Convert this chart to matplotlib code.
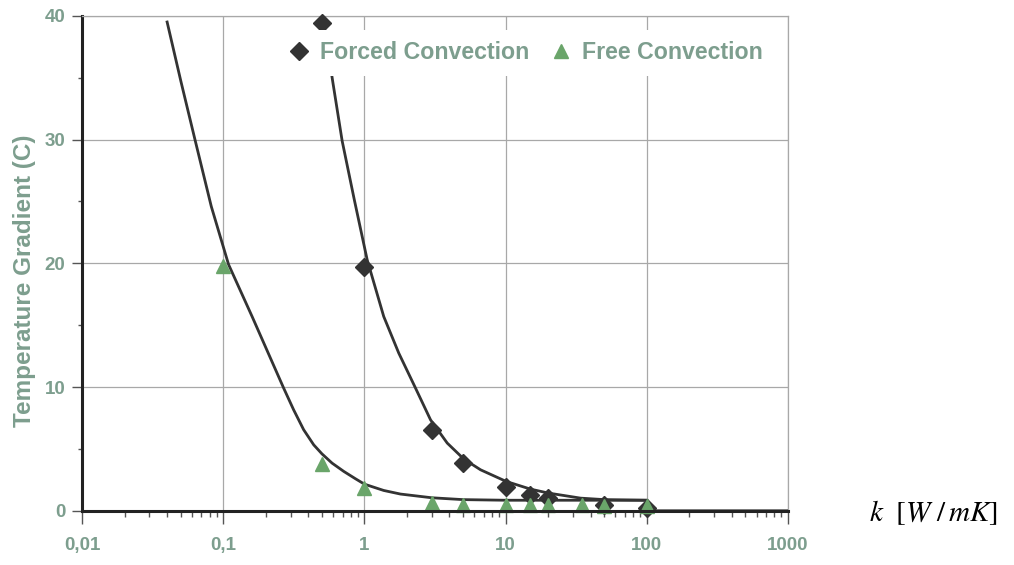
import numpy as np
import matplotlib.pyplot as plt
from matplotlib.ticker import FixedLocator, NullFormatter

# measured points
forced_k = [0.5, 1, 3, 5, 10, 15, 20, 50, 100]
forced_t = [39.4, 19.7, 6.55, 3.9, 1.96, 1.3, 1.05, 0.45, 0.25]
free_k = [0.1, 0.5, 1, 3, 5, 10, 15, 20, 35, 50, 100]
free_t = [19.8, 3.8, 1.85, 0.6, 0.5, 0.45, 0.45, 0.45, 0.45, 0.4, 0.35]

# fitted curves
forced_fit_k = [0.515, 0.596, 0.695, 0.849, 1.045, 1.37, 1.751, 2.30, 2.94, 3.86,
                5.06, 6.65, 10.1, 15.0, 20.1, 34.0, 50, 100, 115, 1000]
forced_fit_t = [39.4, 34.7, 29.9, 25.1, 20.3, 15.7, 12.74, 9.92, 7.35, 5.47,
                4.18, 3.31, 2.37, 1.75, 1.43, 1.02, 0.9, 0.85, 0, 0]
free_fit_k = [0.04, 0.0501, 0.063, 0.0822, 0.109, 0.16, 0.2676, 0.315, 0.371, 0.437,
              0.5, 0.59, 0.714, 0.863, 1.0, 1.37, 1.8, 3, 5, 10, 100]
free_fit_t = [39.5, 34.7, 30, 24.6, 19.9, 15.7, 9.92, 8.16, 6.55, 5.33,
              4.6, 3.85, 3.18, 2.59, 2.15, 1.64, 1.35, 1.05, 0.9, 0.85, 0.85]

xticks = [0.01, 0.1, 1, 10, 100, 1000]
xlabels = ['0,01', '0,1', '1', '10', '100', '1000']
yticks = [0, 10, 20, 30, 40]

lab = '#7d9e8e'
hfont = {'family': 'Liberation Sans', 'weight': 'bold'}

fig = plt.figure(figsize=(10.14, 5.65), dpi=100)
ax = fig.add_axes([0.081, 0.096, 0.696, 0.876])

ax.set_xscale('log')
ax.set_xlim(0.01, 1000)
ax.set_ylim(0, 40)

ax.grid(True, which='major', color='#a8a8a8', lw=0.9)
ax.set_axisbelow(True)

ax.plot(free_fit_k, free_fit_t, color='#333333', lw=2, zorder=3)
ax.plot(forced_fit_k, forced_fit_t, color='#333333', lw=2, zorder=3)
ax.plot(forced_k, forced_t, 'D', color='#333333', ms=9, ls='none',
        label='Forced Convection', zorder=4, clip_on=False)
ax.plot(free_k, free_t, '^', color='#6aa56a', ms=10, ls='none',
        label='Free Convection', zorder=4, clip_on=False)

for s in ['top', 'right']:
    ax.spines[s].set_color('#a8a8a8')
    ax.spines[s].set_linewidth(0.9)
for s in ['left', 'bottom']:
    ax.spines[s].set_color('#222222')
    ax.spines[s].set_linewidth(2.2)
ax.spines['bottom'].set_zorder(5)

ax.set_xticks(xticks)
ax.set_xticklabels(xlabels)
ax.xaxis.set_minor_formatter(NullFormatter())
ax.set_yticks(yticks)
ax.yaxis.set_minor_locator(FixedLocator([5, 15, 25, 35]))
ax.tick_params(axis='x', which='major', length=9, width=1, color='#555555', pad=10)
ax.tick_params(axis='x', which='minor', length=4, width=1, color='#555555')
ax.tick_params(axis='y', which='major', length=7, width=1, color='#555555', pad=5)
ax.tick_params(axis='y', which='minor', length=3, width=1, color='#555555')
for t in ax.get_xticklabels() + ax.get_yticklabels():
    t.set_fontsize(13.5)
    t.set_color(lab)
    t.set_fontfamily('Liberation Sans')
    t.set_fontweight('bold')

ax.set_ylabel('Temperature Gradient (C)', fontsize=17.5, color=lab, **hfont)
ax.yaxis.set_label_coords(-0.066, 0.465)

leg = ax.legend(loc='upper left', bbox_to_anchor=(0.255, 0.995), ncol=2,
                frameon=True, framealpha=1, edgecolor='none', facecolor='white',
                handletextpad=0.3, columnspacing=0.75, handlelength=1.2,
                borderpad=0.5, prop={'family': 'Liberation Sans', 'weight': 'bold', 'size': 16.7})
for t in leg.get_texts():
    t.set_color(lab)

plt.rcParams['mathtext.fontset'] = 'stix'
fig.text(0.857, 1 - 513 / 565, r'$k\ \ [W\ /\,mK]$', fontsize=21, va='center', ha='left')

fig.savefig('out.png', dpi=100)
